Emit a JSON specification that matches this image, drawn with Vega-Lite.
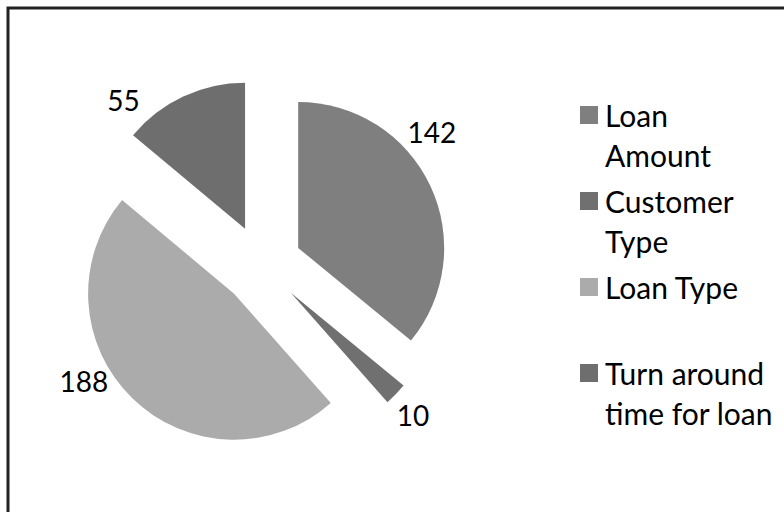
{
  "$schema": "https://vega.github.io/schema/vega-lite/v6.json",
  "width": 800,
  "height": 520,
  "autosize": {"type": "none"},
  "padding": {"left": 8, "top": 8, "right": 0, "bottom": 0},
  "background": "white",
  "view": {"stroke": "#222222", "strokeWidth": 3},
  "config": {
    "view": {"stroke": "#222222", "strokeWidth": 3},
    "font": "Lato"
  },
  "data": {
    "values": [
      {"category": "Loan Amount", "value": 142, "idx": 1},
      {"category": "Customer Type", "value": 10, "idx": 2},
      {"category": "Loan Type", "value": 188, "idx": 3},
      {"category": "Turn around time for loan", "value": 55, "idx": 4}
    ]
  },
  "encoding": {
    "theta": {"field": "value", "type": "quantitative", "stack": true},
    "order": {"field": "idx", "type": "quantitative"}
  },
  "layer": [
    {
      "mark": {
        "type": "arc",
        "outerRadius": 146,
        "x": 254,
        "y": 257,
        "xOffset": {"expr": "40*sin((scale('theta', datum.value_start) + scale('theta', datum.value_end))/2)"},
        "yOffset": {"expr": "-40*cos((scale('theta', datum.value_start) + scale('theta', datum.value_end))/2)"}
      },
      "encoding": {
        "color": {
          "field": "category",
          "type": "nominal",
          "scale": {
            "domain": ["Loan Amount", "Customer Type", "Loan Type", "Turn around time for loan"],
            "range": ["#7f7f7f", "#707070", "#ababab", "#6e6e6e"]
          },
          "legend": {
            "title": null,
            "orient": "none",
            "legendX": 566,
            "legendY": 92,
            "padding": 0,
            "symbolType": "square",
            "symbolSize": 324,
            "symbolStrokeWidth": 0,
            "labelFont": "Lato",
            "labelFontSize": 30,
            "labelColor": "#000000",
            "labelOffset": 1,
            "labelBaseline": "top",
            "labelLimit": 300,
            "rowPadding": 13,
            "labelExpr": "datum.label == 'Loan Amount' ? ['Loan','Amount'] : datum.label == 'Customer Type' ? ['Customer','Type'] : datum.label == 'Loan Type' ? ['Loan Type',' '] : ['Turn around','time for loan']",
            "encode": {"labels": {"update": {"lineHeight": {"value": 40}, "dy": {"value": -12}}}}
          }
        }
      }
    },
    {
      "mark": {
        "type": "text",
        "radius": 175,
        "x": 254,
        "y": 257,
        "font": "Lato",
        "fontSize": 28,
        "color": "#000000",
        "thetaOffset": {"expr": "datum.category == 'Loan Amount' ? -0.26 : datum.category == 'Customer Type' ? 0.03 : datum.category == 'Loan Type' ? 0.26 : -0.33"},
        "xOffset": {"expr": "40*sin((scale('theta', datum.value_start) + scale('theta', datum.value_end))/2)"},
        "yOffset": {"expr": "-40*cos((scale('theta', datum.value_start) + scale('theta', datum.value_end))/2)"}
      },
      "encoding": {
        "text": {"field": "value", "type": "quantitative"}
      }
    }
  ]
}
